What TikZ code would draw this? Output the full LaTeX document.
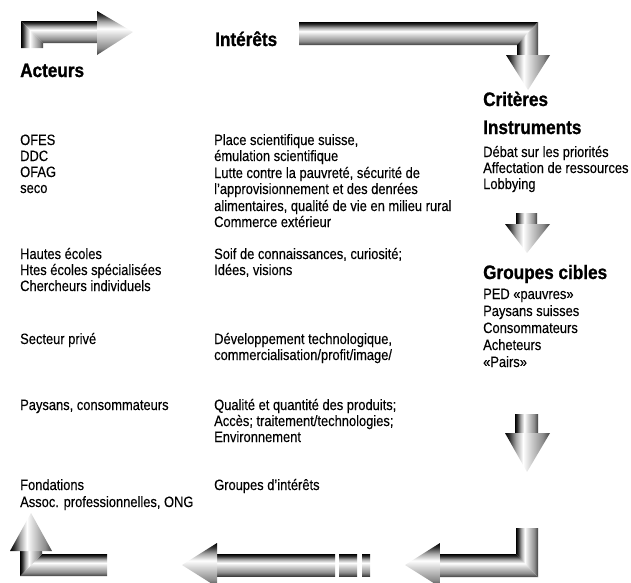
\documentclass[tikz,border=0pt]{standalone}
\usepackage{fontspec}
\setmainfont{Liberation Sans}[FakeStretch=0.86, FakeBold=0.25]
\newfontfamily\headfont{Liberation Sans}[FakeStretch=0.88, BoldFeatures={FakeBold=1}]
\pgfdeclareverticalshading{tubeshade}{100bp}{color(0bp)=(black!75); color(25bp)=(black!75); color(33bp)=(black!45); color(48bp)=(white!85!black); color(55bp)=(white); color(63bp)=(gray!70); color(70bp)=(black!80); color(75bp)=(black); color(100bp)=(black)}
\begin{document}
\begin{tikzpicture}[x=1pt,y=-1pt,
  body/.style={anchor=base west, inner sep=0pt, font=\fontsize{15}{17}\selectfont},
  heading/.style={anchor=base west, inner sep=0pt, font=\headfont\bfseries\fontsize{19.5}{22}\selectfont},
  hs/.style={shading=tubeshade},
  vs/.style={shading=tubeshade, shading angle=90}]
\useasboundingbox (0,0) rectangle (631,582);
\begin{scope}
\clip (0,0) rectangle (631,582);
% arrow A (top left)
\shade[vs] (21,48) -- (21,21) -- (43,43) -- (43,48) -- cycle;
\shade[hs] (21,21) -- (97,21) -- (97,43) -- (43,43) -- cycle;
\shade[hs] (97,11) -- (133,32) -- (97,55) -- cycle;
% arrow B (top long)
\shade[hs] (299,22) -- (538,22) -- (517,45) -- (299,45) -- cycle;
\shade[vs] (538,22) -- (538,55) -- (517,55) -- (517,45) -- cycle;
\shade[vs] (506,55) -- (550,55) -- (528,90) -- cycle;
% arrow C (down 1)
\shade[vs] (516,213) rectangle (537,224);
\shade[vs] (505,224) -- (550,224) -- (527,253) -- cycle;
% arrow D (down 2)
\shade[vs] (515,414) rectangle (538,433);
\shade[vs] (505,433) -- (550,433) -- (527,472) -- cycle;
% arrow E (bottom right L)
\shade[vs] (516,528) -- (538,528) -- (538,577) -- (516,554) -- cycle;
\shade[hs] (538,577) -- (440,577) -- (440,554) -- (516,554) -- cycle;
\shade[hs] (440,543) -- (405,565) -- (440,587) -- cycle;
% arrow F (middle)
\shade[hs] (217,554) rectangle (335,576);
\shade[hs] (339,554) rectangle (357,576);
\shade[hs] (362,554) rectangle (370,576);
\shade[hs] (217,543) -- (182,565) -- (217,587) -- cycle;
% arrow G (bottom left L)
\shade[hs] (107,554) -- (107,576) -- (20,576) -- (42,554) -- cycle;
\shade[vs] (20,576) -- (20,551) -- (42,551) -- (42,554) -- cycle;
\shade[vs] (10,551) -- (31,513) -- (52,551) -- cycle;
\end{scope}
% headings
\node[heading] (interets) at (215,46) {Intérêts};
\node[heading] (acteurs) at (20,77) {Acteurs};
\node[heading] (criteres) at (483,106) {Critères};
\node[heading] (instr) at (483,134) {Instruments};
\node[heading] (cibles) at (483,279) {Groupes cibles};
% left column
\node[body] (a1) at (20,145) {OFES};
\node[body] (a2) at (20,161) {DDC};
\node[body] (a3) at (20,177) {OFAG};
\node[body] (a4) at (20,193) {seco};
\node[body] (a5) at (20,259) {Hautes écoles};
\node[body] (a6) at (20,275) {Htes écoles spécialisées};
\node[body] (a7) at (20,291) {Chercheurs individuels};
\node[body] (a8) at (20,344) {Secteur privé};
\node[body] (a9) at (20,410) {Paysans, consommateurs};
\node[body] (a10) at (20,490) {Fondations};
\node[body] (a11) at (20,507) {Assoc. professionnelles, ONG};
% middle column
\node[body] (m1) at (214,145) {Place scientifique suisse,};
\node[body] (m2) at (214,161) {émulation scientifique};
\node[body] (m3) at (214,178) {Lutte contre la pauvreté, sécurité de};
\node[body] (m4) at (214,194) {l'approvisionnement et des denrées};
\node[body] (m5) at (214,211) {alimentaires, qualité de vie en milieu rural};
\node[body] (m6) at (214,227) {Commerce extérieur};
\node[body] (m7) at (214,259) {Soif de connaissances, curiosité;};
\node[body] (m8) at (214,275) {Idées, visions};
\node[body] (m9) at (214,344) {Développement technologique,};
\node[body] (m10) at (214,360) {commercialisation/profit/image/};
\node[body] (m11) at (214,410) {Qualité et quantité des produits;};
\node[body] (m12) at (214,426) {Accès; traitement/technologies;};
\node[body] (m13) at (214,442) {Environnement};
\node[body] (m14) at (214,490) {Groupes d'intérêts};
% right column
\node[body] (r1) at (483,157) {Débat sur les priorités};
\node[body] (r2) at (483,173) {Affectation de ressources};
\node[body] (r3) at (483,189) {Lobbying};
\node[body] (g1) at (483,299) {PED «pauvres»};
\node[body] (g2) at (483,316) {Paysans suisses};
\node[body] (g3) at (483,333) {Consommateurs};
\node[body] (g4) at (483,350) {Acheteurs};
\node[body] (g5) at (483,367) {«Pairs»};
\end{tikzpicture}
\end{document}
